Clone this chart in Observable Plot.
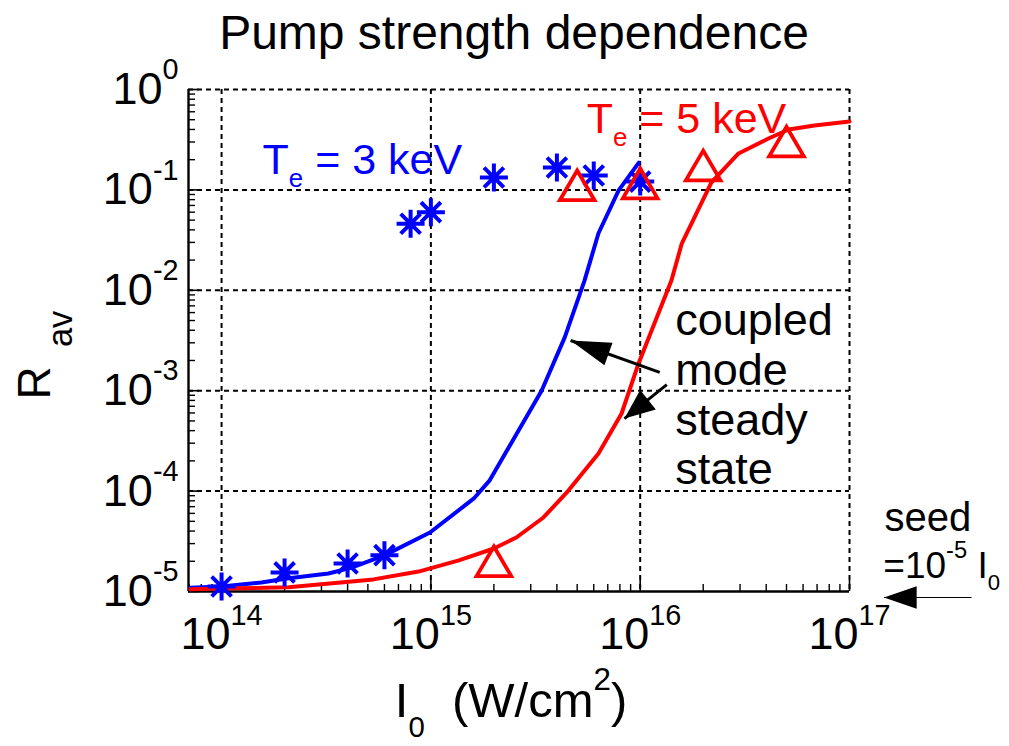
<!DOCTYPE html>
<html><head><meta charset="utf-8">
<script src="https://cdn.jsdelivr.net/npm/d3@7"></script>
<script src="https://cdn.jsdelivr.net/npm/@observablehq/plot@0.6"></script>
<style>
body{margin:0;background:#fff;}
svg text, svg tspan{white-space:pre;}
</style>
</head><body><div id="chart"></div>
<script>
// ---------- data ----------
const titleText = "Pump strength dependence";
const xLabelText = "I_{0}  (W/cm^{2})";
const yLabelText = "R_{  av}";
const xDomain = [6.95e13, 1e17];
const yDomain = [1e-5, 1];
const xMajor = [1e14, 1e15, 1e16, 1e17];
const yMajor = [1e-5, 1e-4, 1e-3, 1e-2, 1e-1, 1];
const xTickLabels = ["10^{14}", "10^{15}", "10^{16}", "10^{17}"];
const yTickLabels = ["10^{-5}", "10^{-4}", "10^{-3}", "10^{-2}", "10^{-1}", "10^{0}"];

// T_e = 3 keV, coupled-mode steady state curve
const blueLineI = [7.1e13, 1e14, 1.55e14, 2.05e14, 3.24e14, 4.18e14, 6.0e14, 9.9e14, 1.6e15, 1.91e15, 3.38e15, 4.36e15, 5.42e15, 6.32e15, 7.89e15, 9.85e15];
const blueLineR = [1.09e-5, 1.12e-5, 1.23e-5, 1.35e-5, 1.51e-5, 1.73e-5, 2.29e-5, 3.87e-5, 8.4e-5, 1.28e-4, 1.0e-3, 3.4e-3, 1.25e-2, 3.7e-2, 9.9e-2, 0.187];
// T_e = 5 keV, coupled-mode steady state curve
const redLineI = [7.1e13, 1e14, 2.09e14, 5.32e14, 8.73e14, 1.36e15, 2.0e15, 2.56e15, 3.45e15, 4.52e15, 6.32e15, 8.15e15, 9.82e15, 1.41e16, 1.58e16, 2.19e16, 2.95e16, 4.1e16, 5.12e16, 6.8e16, 1e17];
const redLineR = [1.05e-5, 1.07e-5, 1.10e-5, 1.32e-5, 1.58e-5, 2.04e-5, 2.68e-5, 3.45e-5, 5.46e-5, 1.0e-4, 2.37e-4, 5.93e-4, 1.87e-3, 1.25e-2, 2.92e-2, 0.1186, 0.2307, 0.325, 0.40, 0.4375, 0.48];
// simulation points
const blueStarI = [1e14, 2e14, 4e14, 6e14, 8e14, 1e15, 2e15, 4e15, 6e15, 1e16];
const blueStarR = [1.12e-5, 1.55e-5, 1.9e-5, 2.3e-5, 0.046, 0.060, 0.133, 0.167, 0.139, 0.121];
const redTriI = [2e15, 5e15, 1e16, 2e16, 5e16];
const redTriR = [2.0e-5, 0.111, 0.116, 0.175, 0.303];

// annotations (data-space anchors)
const blueNote = ["T_{e} = 3 keV"], blueNoteI = [1.57e14], blueNoteR = [0.1456];
const redNote = ["T_{e} = 5 keV"], redNoteI = [5.55e15], redNoteR = [0.373];
const modeNote = ["coupled", "mode", "steady", "state"];
const modeNoteI = [1.47e16, 1.47e16, 1.47e16, 1.47e16];
const modeNoteR = [3.55e-3, 1.13e-3, 3.58e-4, 1.19e-4];
const seedNote = ["seed", "=10^{-5} I_{0}"];
const seedNoteI = [1.47e17, 1.45e17];
const seedNoteR = [4.05e-5, 1.35e-5];
// arrows: tail -> tip
const arrowTailI = [1.24e16, 1.34e16];
const arrowTailR = [1.52e-3, 1.15e-3];
const arrowTipI = [4.65e15, 8.41e15];
const arrowTipR = [3.16e-3, 5.28e-4];
const seedArrowTailI = [3.83e17], seedArrowTailR = [8.71e-6];
const seedArrowTipI = [1.46e17], seedArrowTipR = [8.71e-6];

// ---------- layout ----------
const W = 1009, H = 746;
const M = {top: 89, right: 160, bottom: 155, left: 188};
const innerW = W - M.left - M.right, innerH = H - M.top - M.bottom;
const BLUE = "#0000ff", RED = "#ff0000";

const zip = (a, b) => a.map((v, i) => ({x: v, y: b[i]}));
const blueLine = zip(blueLineI, blueLineR);
const redLine = zip(redLineI, redLineR);
const blueStars = zip(blueStarI, blueStarR);
const redTris = zip(redTriI, redTriR);

const logTicks = (dom) => d3.scaleLog().domain(dom).ticks();
const isDecade = (v) => Math.abs(Math.log10(v) - Math.round(Math.log10(v))) < 1e-9;
const xMinor = logTicks(xDomain).filter(v => !isDecade(v) && v > xDomain[0]);
const yMinor = logTicks(yDomain).filter(v => !isDecade(v));

const asterisk8 = {draw(ctx, size) {
  const r = Math.sqrt(size / Math.PI), d = r * Math.SQRT1_2;
  ctx.moveTo(0, -r); ctx.lineTo(0, r);
  ctx.moveTo(-r, 0); ctx.lineTo(r, 0);
  ctx.moveTo(-d, -d); ctx.lineTo(d, d);
  ctx.moveTo(-d, d); ctx.lineTo(d, -d);
}};
const triangleUp = {draw(ctx, size) {
  const r = Math.sqrt(size / Math.PI), w = 1.05 * r, h = 0.9 * r;
  ctx.moveTo(0, -h); ctx.lineTo(w, h); ctx.lineTo(-w, h); ctx.closePath();
}};

// arrows as shaft (link) + filled head (arrow, stroke none, extended tail)
const mkArrows = (tI, tR, pI, pR) => tI.map((_, i) => ({x1: tI[i], y1: tR[i], x2: pI[i], y2: pR[i]}));
const extend = (a, k) => a.map(d => ({
  x1: Math.pow(10, Math.log10(d.x2) + k * (Math.log10(d.x1) - Math.log10(d.x2))),
  y1: Math.pow(10, Math.log10(d.y2) + k * (Math.log10(d.y1) - Math.log10(d.y2))),
  x2: d.x2, y2: d.y2}));
const modeArrows = mkArrows(arrowTailI, arrowTailR, arrowTipI, arrowTipR);
const seedArrow = mkArrows(seedArrowTailI, seedArrowTailR, seedArrowTipI, seedArrowTipR);

const gridStyle = {stroke: "black", strokeOpacity: 1, strokeWidth: 2, strokeDasharray: "5,4"};

const chart = Plot.plot({
  width: W, height: H,
  marginTop: M.top, marginRight: M.right, marginBottom: M.bottom, marginLeft: M.left,
  style: {fontFamily: "'Liberation Sans', Arial, Helvetica, sans-serif", background: "white", color: "black", overflow: "visible"},
  x: {type: "log", domain: xDomain},
  y: {type: "log", domain: yDomain},
  marks: [
    Plot.gridX(xMajor, gridStyle),
    Plot.gridY(yMajor.filter(v => v > yDomain[0]), gridStyle),
    Plot.ruleX(xMinor, {stroke: "black", strokeWidth: 1.4, insetTop: innerH - 7}),
    Plot.ruleY(yMinor, {stroke: "black", strokeWidth: 1.4, insetRight: innerW - 7}),
    Plot.ruleX(xMajor, {stroke: "black", strokeWidth: 1.6, insetTop: innerH - 11}),
    Plot.ruleY(yMajor, {stroke: "black", strokeWidth: 1.6, insetRight: innerW - 11}),
    Plot.ruleX([xDomain[0]], {stroke: "black", strokeWidth: 2.4}),
    Plot.ruleY([yDomain[0]], {stroke: "black", strokeWidth: 2.4}),
    Plot.axisX(xMajor, {tickSize: 0, tickPadding: 26, fontSize: 45, label: null,
      tickFormat: (d) => xTickLabels[xMajor.indexOf(d)]}),
    Plot.axisY(yMajor, {tickSize: 0, tickPadding: 10, fontSize: 45, label: null,
      tickFormat: (d) => yTickLabels[yMajor.indexOf(d)]}),
    Plot.line(blueLine, {x: "x", y: "y", stroke: BLUE, strokeWidth: 4}),
    Plot.line(redLine, {x: "x", y: "y", stroke: RED, strokeWidth: 4}),
    Plot.dot(blueStars, {x: "x", y: "y", symbol: asterisk8, r: 14, stroke: BLUE, strokeWidth: 4, fill: "none"}),
    Plot.dot(redTris, {x: "x", y: "y", symbol: triangleUp, r: 16.5, stroke: RED, strokeWidth: 3.8, fill: "none"}),
    // arrows
    Plot.link(modeArrows, {x1: "x1", y1: "y1", x2: "x2", y2: "y2", stroke: "black", strokeWidth: 3}),
    Plot.arrow(extend(modeArrows.slice(0, 1), 2), {x1: "x1", y1: "y1", x2: "x2", y2: "y2", stroke: "none", fill: "black", strokeWidth: 1, headLength: 63, headAngle: 33}),
    Plot.arrow(extend(modeArrows.slice(1, 2), 3.5), {x1: "x1", y1: "y1", x2: "x2", y2: "y2", stroke: "none", fill: "black", strokeWidth: 1, headLength: 49, headAngle: 45}),
    Plot.link(seedArrow, {x1: "x1", y1: "y1", x2: "x2", y2: "y2", stroke: "black", strokeWidth: 1.2}),
    Plot.arrow(extend(seedArrow, 2.5), {x1: "x1", y1: "y1", x2: "x2", y2: "y2", stroke: "none", fill: "black", strokeWidth: 1, headLength: 52, headAngle: 38}),
    // annotations
    Plot.text(blueNote, {x: blueNoteI, y: blueNoteR, text: (d) => d, fill: BLUE, fontSize: 43, textAnchor: "start", lineAnchor: "bottom"}),
    Plot.text(redNote, {x: redNoteI, y: redNoteR, text: (d) => d, fill: RED, fontSize: 43, textAnchor: "start", lineAnchor: "bottom"}),
    Plot.text(modeNote, {x: modeNoteI, y: modeNoteR, text: (d) => d, fill: "black", fontSize: 45, textAnchor: "start", lineAnchor: "bottom"}),
    Plot.text(seedNote.slice(0, 1), {x: seedNoteI.slice(0, 1), y: seedNoteR.slice(0, 1), text: (d) => d, fill: "black", fontSize: 40, textAnchor: "start", lineAnchor: "bottom"}),
    Plot.text(seedNote.slice(1), {x: seedNoteI.slice(1), y: seedNoteR.slice(1), text: (d) => d, fill: "black", fontSize: 37, textAnchor: "start", lineAnchor: "bottom"}),
    // title and axis labels
    Plot.text([titleText], {frameAnchor: "top", dy: -41, dx: -5, fontSize: 48, lineAnchor: "bottom", fill: "black"}),
    Plot.text([xLabelText], {frameAnchor: "bottom", dy: 125, dx: -8, fontSize: 49, lineAnchor: "bottom", fill: "black"}),
    Plot.text([yLabelText], {frameAnchor: "left", rotate: -90, dx: -139, dy: 59, fontSize: 46, lineAnchor: "bottom", fill: "black"})
  ]
});
document.getElementById("chart").appendChild(chart);

// convert ^{..} and _{..} markup into real superscript / subscript tspans
const subDrop = {"I_{0}  (W/cm^{2})": 0.42, "R_{  av}": 0.48};
const subSize = {"R_{  av}": 0.75};
function richify(svg) {
  const NS = "http://www.w3.org/2000/svg";
  svg.querySelectorAll("text").forEach((t) => {
    const kids = t.querySelectorAll("tspan");
    const targets = kids.length ? Array.from(kids) : [t];
    targets.forEach((el) => {
      const s = el.textContent;
      if (!/[\^_]\{/.test(s)) return;
      const fs = parseFloat(getComputedStyle(el).fontSize) || 40;
      const drop = subDrop[s] ?? 0.32;
      const ss = subSize[s] ?? 0.6;
      const parts = [];
      const re = /([\^_])\{([^}]*)\}/g;
      let last = 0, m;
      while ((m = re.exec(s))) {
        if (m.index > last) parts.push({k: "n", t: s.slice(last, m.index)});
        parts.push({k: m[1] === "^" ? "sup" : "sub", t: m[2]});
        last = re.lastIndex;
      }
      if (last < s.length) parts.push({k: "n", t: s.slice(last)});
      el.textContent = "";
      let off = 0;
      for (const p of parts) {
        const ts = document.createElementNS(NS, "tspan");
        const target = p.k === "sup" ? -0.55 * fs : p.k === "sub" ? drop * fs : 0;
        if (target !== off) ts.setAttribute("dy", (target - off).toFixed(2));
        off = target;
        if (p.k === "sup") ts.setAttribute("font-size", (0.64 * fs).toFixed(2));
        if (p.k === "sub") ts.setAttribute("font-size", (ss * fs).toFixed(2));
        ts.textContent = p.t;
        el.appendChild(ts);
      }
    });
  });
}
richify(chart);
</script></body></html>
